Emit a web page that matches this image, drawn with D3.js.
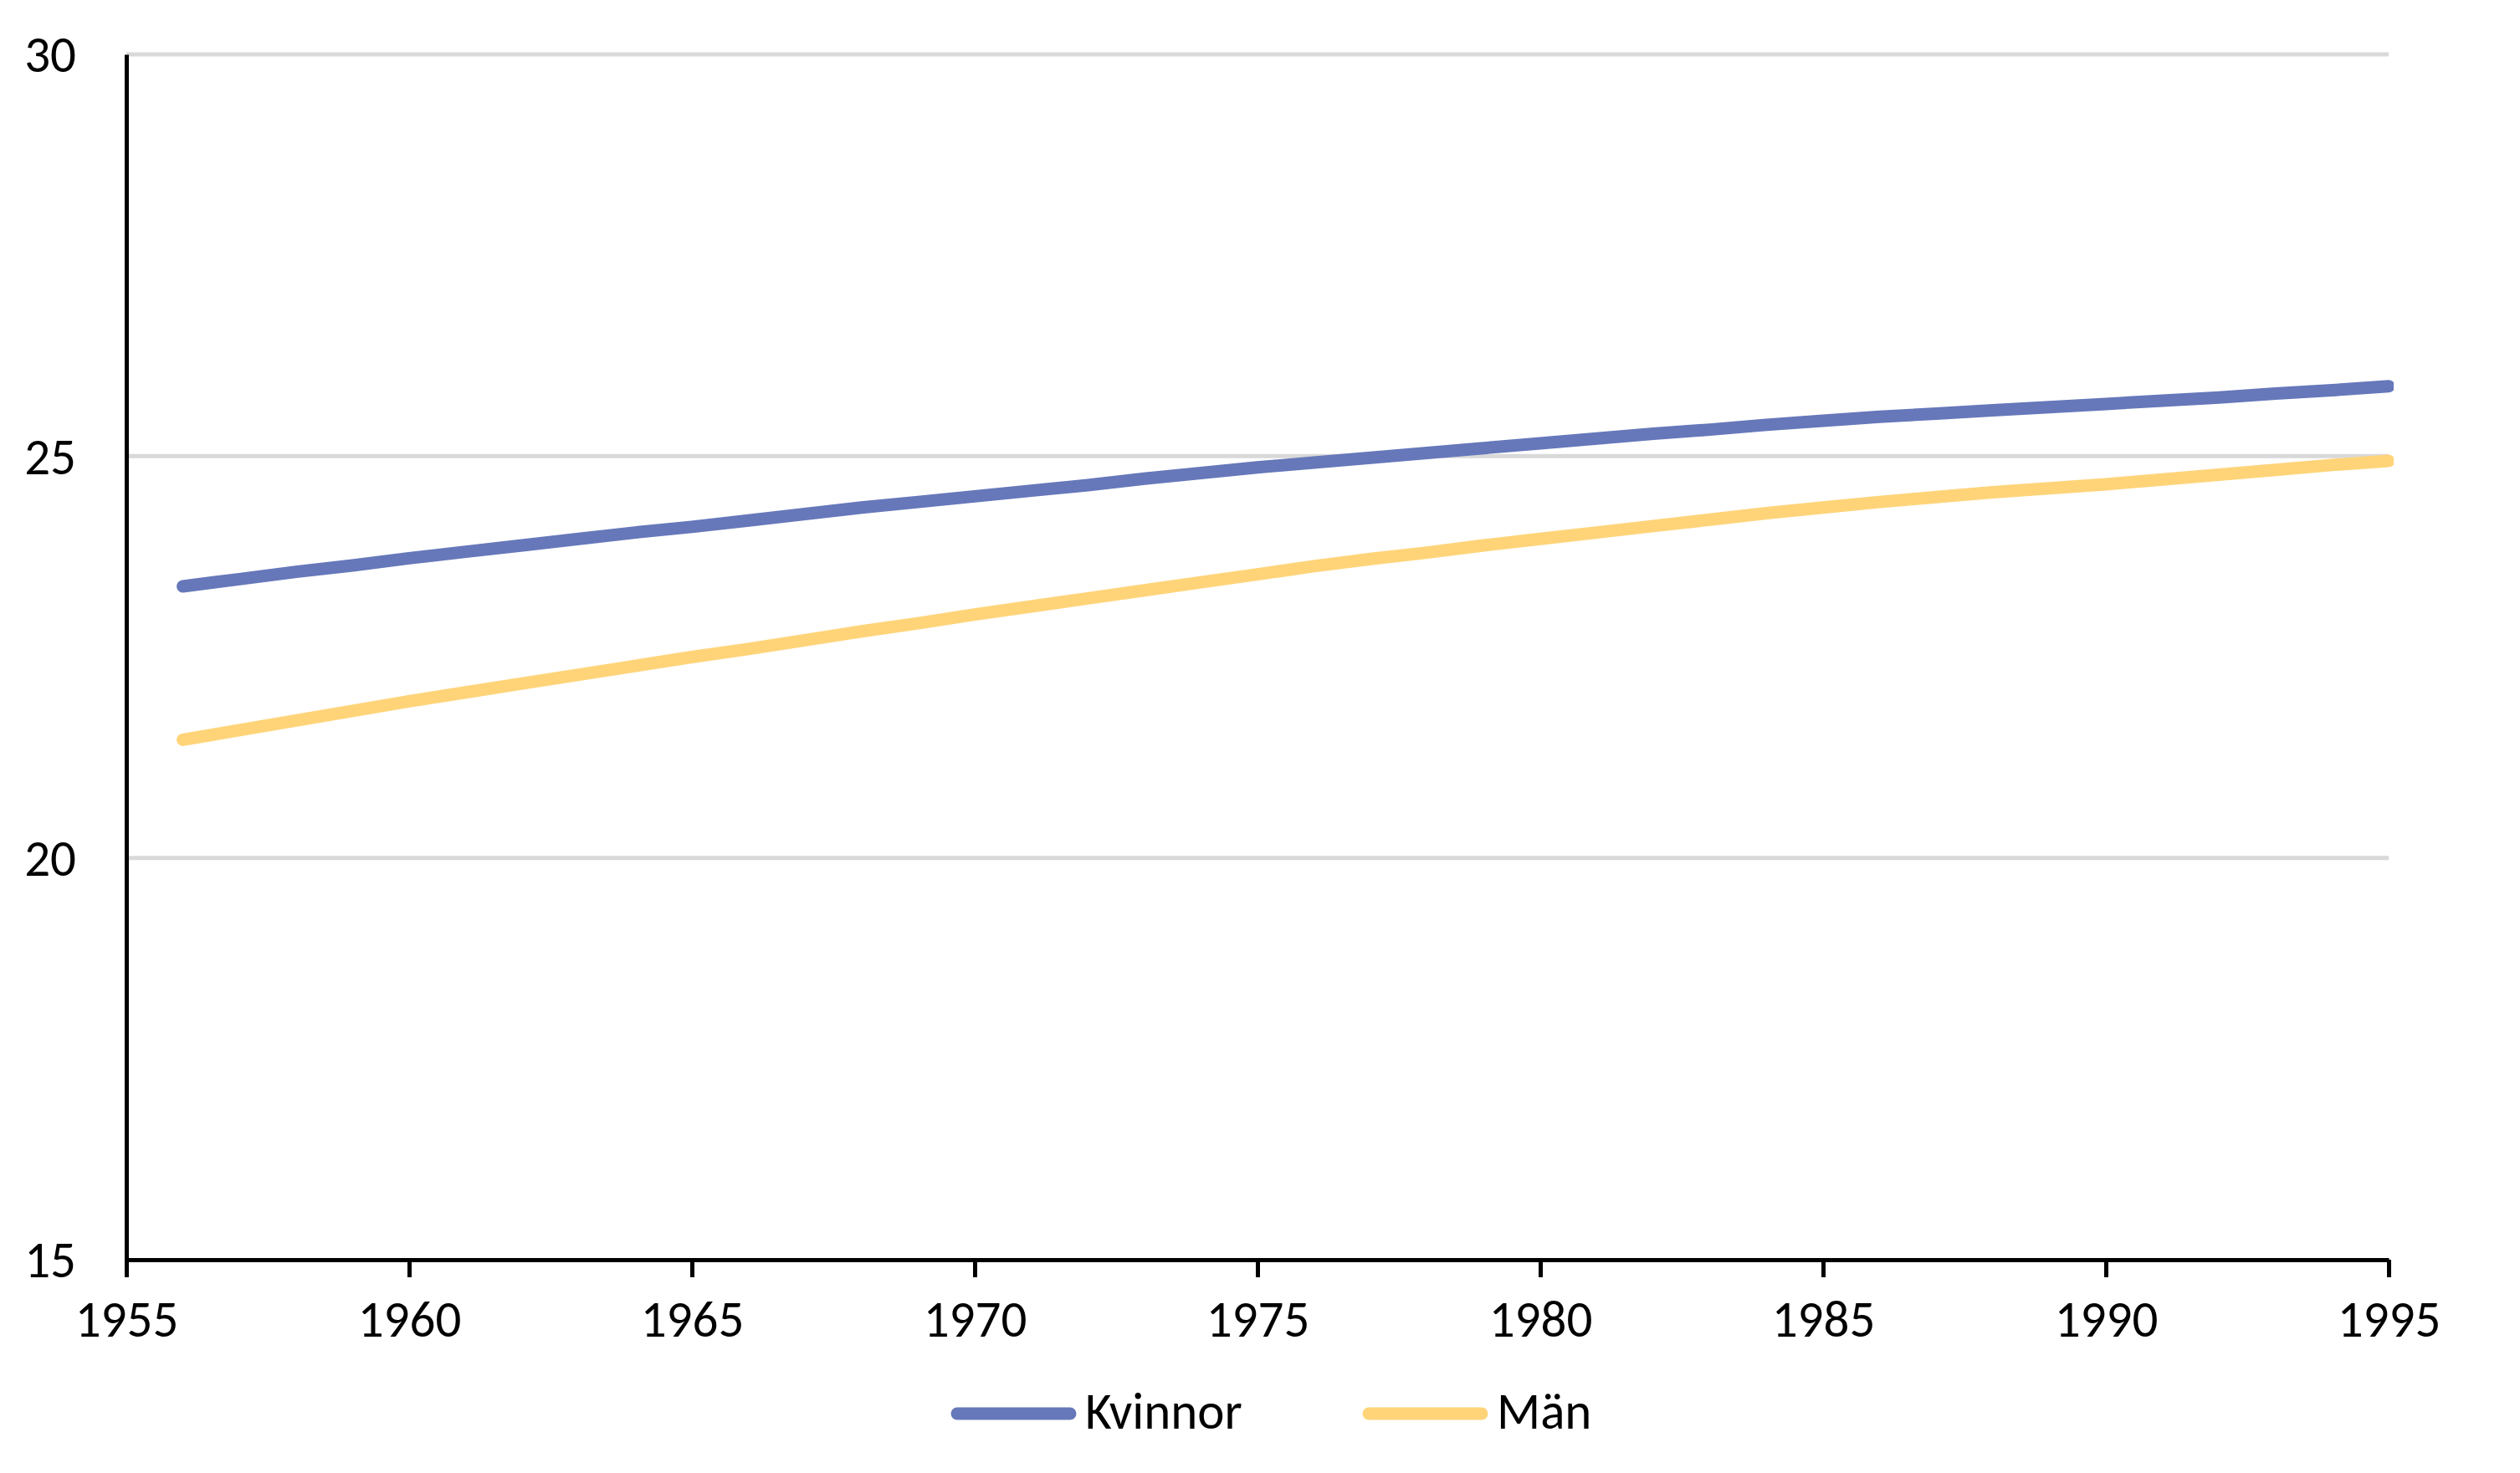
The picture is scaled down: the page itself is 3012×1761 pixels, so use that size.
<!DOCTYPE html>
<html>
<head>
<meta charset="utf-8">
<script src="https://cdn.jsdelivr.net/npm/d3@7"></script>
<style>
    body { margin: 0; background: #ffffff; }
    text { font-family: Carlito, Calibri, Lato, sans-serif; fill: #000000; }
</style>
</head>
<body>
<div id="chart"></div>
<script>
let years = d3.range(1956, 1996);

let kvinnor = [
    23.38, 23.47, 23.56, 23.64, 23.73, 23.81, 23.89, 23.97, 24.05, 24.12,
    24.20, 24.28, 24.36, 24.43, 24.50, 24.57, 24.64, 24.72, 24.79, 24.86,
    24.92, 24.98, 25.04, 25.10, 25.16, 25.22, 25.28, 25.33, 25.39, 25.44,
    25.49, 25.53, 25.57, 25.61, 25.65, 25.69, 25.73, 25.78, 25.82, 25.87
];
let man = [
    21.47, 21.59, 21.71, 21.83, 21.95, 22.06, 22.17, 22.28, 22.39, 22.50,
    22.60, 22.71, 22.82, 22.92, 23.03, 23.13, 23.23, 23.33, 23.43, 23.53,
    23.63, 23.72, 23.80, 23.89, 23.97, 24.05, 24.13, 24.21, 24.29, 24.36,
    24.43, 24.49, 24.55, 24.60, 24.65, 24.71, 24.77, 24.83, 24.89, 24.94
];

let seriesNames = ["Kvinnor", "Män"];
let seriesColors = ["#6678ba", "#ffd479"];
let xTicks = [1955, 1960, 1965, 1970, 1975, 1980, 1985, 1990, 1995];
let yTicks = [15, 20, 25, 30];

function drawChart() {
    let width = 3012;
    let height = 1761;
    let plot = { left: 151, right: 2855, top: 65, bot: 1506 };

    let svg = d3.select("#chart")
        .append("svg")
        .attr("width", width)
        .attr("height", height);

    let xScale = d3.scaleLinear()
        .domain([1955, 1995])
        .range([plot.left, plot.right]);
    let yScale = d3.scaleLinear()
        .domain([15, 30])
        .range([plot.bot, plot.top]);

    // gridlines
    svg.append("g")
        .selectAll("line")
        .data(yTicks.filter(d => d > 15))
        .enter()
        .append("line")
        .attr("x1", plot.left)
        .attr("x2", plot.right)
        .attr("y1", d => yScale(d))
        .attr("y2", d => yScale(d))
        .attr("stroke", "#d9d9d9")
        .attr("stroke-width", 5);

    // y axis: line only, labels to the left
    let yAxis = svg.append("g")
        .attr("transform", "translate(" + plot.left + ",0)")
        .call(d3.axisLeft(yScale).tickValues(yTicks).tickSize(0).tickPadding(60));
    yAxis.select(".domain").attr("stroke", "#000").attr("stroke-width", 5);
    yAxis.selectAll("text")
        .style("font-size", "61px")
        .attr("dy", "0.34em");

    // x axis
    let xAxis = svg.append("g")
        .attr("transform", "translate(0," + plot.bot + ")")
        .call(d3.axisBottom(xScale).tickValues(xTicks).tickFormat(d3.format("d"))
            .tickSizeInner(21).tickSizeOuter(0).tickPadding(28));
    xAxis.select(".domain").attr("stroke", "#000").attr("stroke-width", 5);
    xAxis.selectAll(".tick line").attr("stroke", "#000").attr("stroke-width", 5);
    xAxis.selectAll("text").style("font-size", "61px");

    let clip = svg.append("defs").append("clipPath")
        .attr("id", "clip")
        .append("rect")
        .attr("x", 0)
        .attr("y", 0)
        .attr("width", plot.right + 6)
        .attr("height", height);

    let line = d3.line()
        .x((d, i) => xScale(years[i]))
        .y(d => yScale(d));

    let lines = svg.append("g").attr("clip-path", "url(#clip)");
    [kvinnor, man].forEach(function (values, i) {
        lines.append("path")
            .datum(values)
            .attr("fill", "none")
            .attr("stroke", seriesColors[i])
            .attr("stroke-width", 15)
            .attr("stroke-linecap", "round")
            .attr("stroke-linejoin", "round")
            .attr("d", line);
    });

    // legend
    let legendX = [1144, 1636];
    let legend = svg.append("g");
    seriesNames.forEach(function (name, i) {
        legend.append("line")
            .attr("x1", legendX[i])
            .attr("x2", legendX[i] + 135)
            .attr("y1", 1690)
            .attr("y2", 1690)
            .attr("stroke", seriesColors[i])
            .attr("stroke-width", 15)
            .attr("stroke-linecap", "round");
        legend.append("text")
            .attr("x", legendX[i] + 153)
            .attr("y", 1708)
            .style("font-size", "61px")
            .text(name);
    });
}
drawChart();
</script>
</body>
</html>
